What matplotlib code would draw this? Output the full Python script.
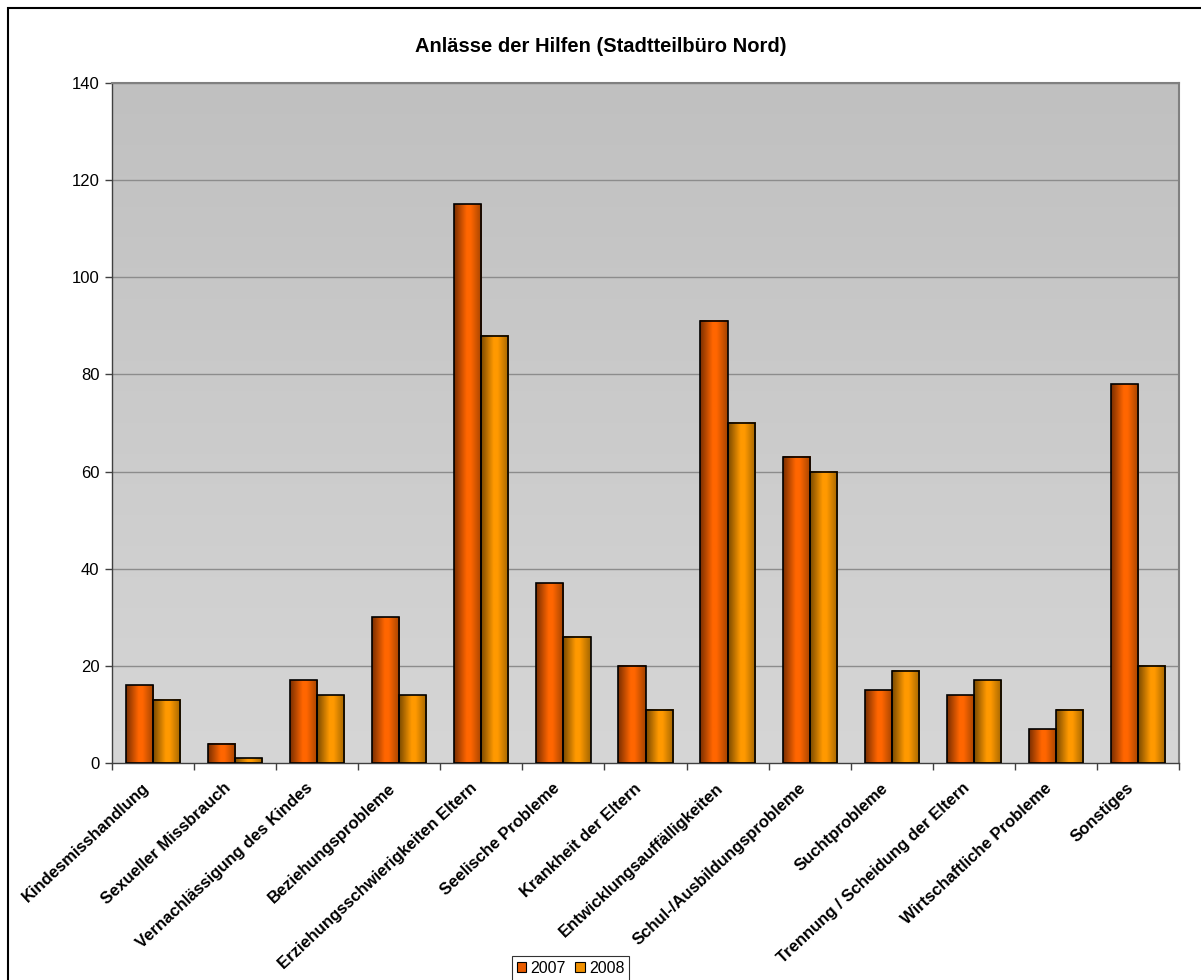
import numpy as np
import matplotlib
matplotlib.use("Agg")
import matplotlib.pyplot as plt
from matplotlib.colors import LinearSegmentedColormap
from matplotlib.patches import Rectangle

plt.rcParams['font.family'] = ['Liberation Sans', 'DejaVu Sans']

categories = [
    "Kindesmisshandlung", "Sexueller Missbrauch", "Vernachlässigung des Kindes",
    "Beziehungsprobleme", "Erziehungsschwierigkeiten Eltern", "Seelische Probleme",
    "Krankheit der Eltern", "Entwicklungsauffälligkeiten", "Schul-/Ausbildungsprobleme",
    "Suchtprobleme", "Trennung / Scheidung der Eltern", "Wirtschaftliche Probleme",
    "Sonstiges",
]
values_2007 = [16, 4, 17, 30, 115, 37, 20, 91, 63, 15, 14, 7, 78]
values_2008 = [13, 1, 14, 14, 88, 26, 11, 70, 60, 19, 17, 11, 20]
series_labels = ["2007", "2008"]
y_ticks = [0, 20, 40, 60, 80, 100, 120, 140]

W, H = 1201, 980
fig = plt.figure(figsize=(W / 100, H / 100), dpi=100)

# chart frame
fig.patches.append(Rectangle((8 / W, -0.1), 1.2, 1 - 8 / H + 0.1, transform=fig.transFigure,
                             fill=False, edgecolor="black", linewidth=1.5))

ax = fig.add_axes([112 / W, 1 - 763 / H, (1179 - 112) / W, (763 - 83) / H])

n = len(categories)
ax.set_xlim(0, n)
ax.set_ylim(0, 140)

# plot area background: vertical grey gradient
bg = np.linspace(0, 1, 256).reshape(-1, 1)
bg_cmap = LinearSegmentedColormap.from_list("bg", ["#d6d6d6", "#c0c0c0"])
ax.imshow(bg, cmap=bg_cmap, extent=[0, 1, 0, 1], transform=ax.transAxes,
          aspect="auto", origin="lower", zorder=0)

for y in y_ticks[1:]:
    ax.axhline(y, color="#8c8c8c", linewidth=1, zorder=1)


def shaded(bright, dark_l, dark_r):
    return LinearSegmentedColormap.from_list(
        "bar", [(0, dark_l), (0.45, bright), (0.6, bright), (1, dark_r)])


cmaps = [shaded("#ff6600", "#7a2e00", "#a34400"),
         shaded("#ff9900", "#7a4a00", "#a36600")]
grad = np.linspace(0, 1, 64).reshape(1, -1)

bar_w = 0.33
offsets = [-bar_w, 0]
for s, vals in enumerate([values_2007, values_2008]):
    for i, v in enumerate(vals):
        x0 = i + 0.5 + offsets[s]
        ax.imshow(grad, cmap=cmaps[s], extent=[x0, x0 + bar_w, 0, v],
                  aspect="auto", zorder=2, interpolation="bilinear")
        ax.add_patch(Rectangle((x0, 0), bar_w, v, fill=False,
                               edgecolor="black", linewidth=1.2, zorder=3))

ax.set_xlim(0, n)
ax.set_ylim(0, 140)
ax.set_yticks(y_ticks)
ax.set_yticklabels([str(t) for t in y_ticks], fontsize=12)
ax.set_xticks(np.arange(0, n + 1))
ax.set_xticklabels([])
ax.tick_params(axis="both", direction="out", length=5, color="#404040", width=1)
ax.tick_params(axis="y", pad=4)

for side in ["top", "right"]:
    ax.spines[side].set_color("#808080")
    ax.spines[side].set_linewidth(1.5)
for side in ["left", "bottom"]:
    ax.spines[side].set_color("#404040")
    ax.spines[side].set_linewidth(1)

for i, label in enumerate(categories):
    ax.text(i + 0.36, -3.6, label, rotation=43, ha="right", va="top",
            rotation_mode="anchor", fontsize=12, fontweight="bold", clip_on=False)

fig.text(0.5, 1 - 47 / H, "Anlässe der Hilfen (Stadtteilbüro Nord)",
         ha="center", va="center", fontsize=14.5, fontweight="bold")

handles = [Rectangle((0, 0), 1, 1, facecolor=c, edgecolor="black", linewidth=0.8)
           for c in ["#e85c00", "#f09000"]]
leg = fig.legend(handles, series_labels, loc="upper left",
                 bbox_to_anchor=(512 / W, 1 - 956 / H), fontsize=11.5,
                 ncol=2, frameon=True, fancybox=False, handlelength=0.6,
                 handleheight=0.6, handletextpad=0.25, columnspacing=0.6,
                 borderpad=0.3, borderaxespad=0)
leg.get_frame().set_edgecolor("black")
leg.get_frame().set_linewidth(0.8)

fig.savefig("out.png", dpi=100)
